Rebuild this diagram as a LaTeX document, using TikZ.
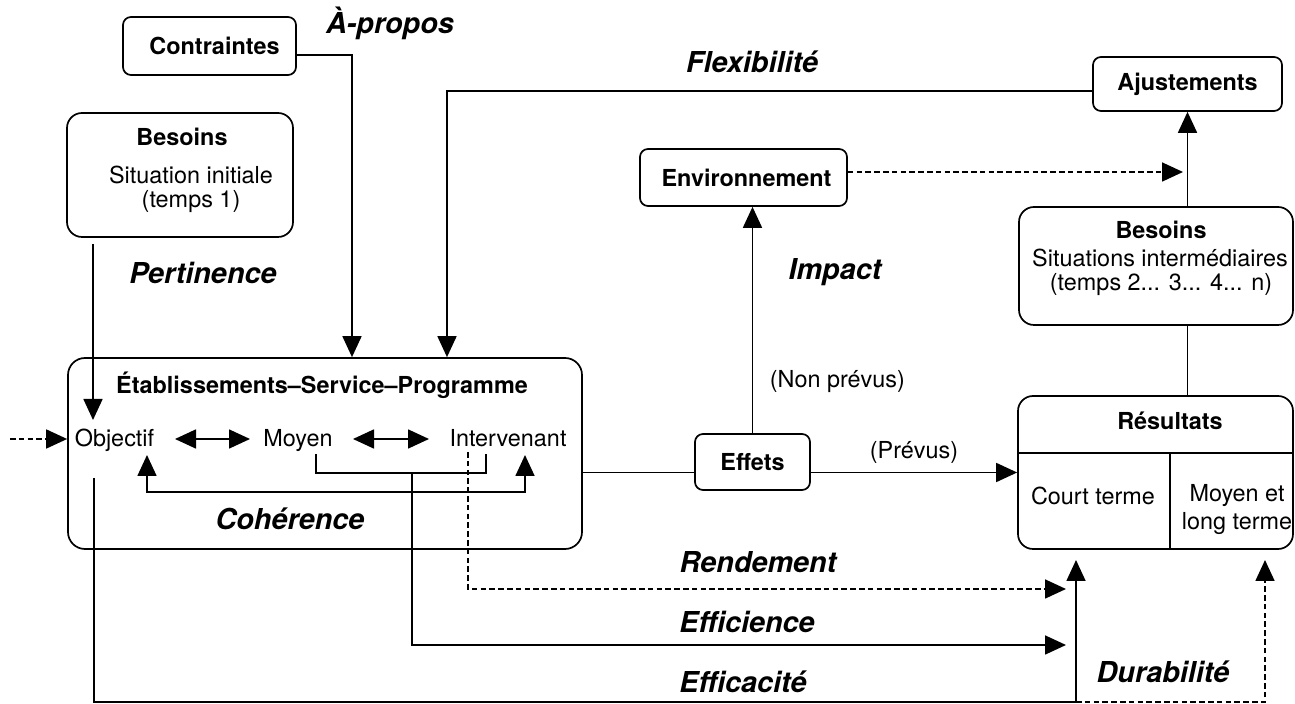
\documentclass[tikz,border=0pt]{standalone}
\usepackage{fontspec}
\setmainfont{TeX Gyre Heros}
\usetikzlibrary{arrows.meta}
\tikzset{
  rbox/.style={draw, rounded corners=4pt, inner sep=0pt, line width=0.85pt,
    font=\fontsize{11.7}{14}\selectfont\bfseries},
  nt/.style={font=\fontsize{11.7}{14}\selectfont, inner sep=0pt},
  bt/.style={font=\fontsize{11.7}{14}\selectfont\bfseries, inner sep=0pt},
  lab/.style={font=\fontsize{14.4}{17}\selectfont\bfseries\itshape, inner sep=0pt},
  arr/.style={-{Triangle[length=10.5pt,width=9.5pt]}},
  dbl/.style={{Triangle[length=10.5pt,width=9.5pt]}-{Triangle[length=10.5pt,width=9.5pt]}},
  dsh/.style={dash pattern=on 2.8pt off 1.6pt},
}
\begin{document}
\begin{tikzpicture}[x=0.5pt,y=-0.5pt,line width=0.85pt]
\useasboundingbox (0,0) rectangle (1295,704);

% boxes
\node[rbox, minimum width=86.5pt, minimum height=29pt] (contr) at (209.5,46) {\hspace*{5pt}Contraintes};
\node[rbox, rounded corners=7.5pt, minimum width=113pt, minimum height=62pt] (besL) at (180,175) {};
\node[rbox, rounded corners=8.5pt, minimum width=257pt, minimum height=95.5pt] (esp) at (325,453.5) {};
\node[rbox, minimum width=103.5pt, minimum height=28.5pt] (env) at (743.5,177.5) {\hspace*{3pt}Environnement};
\node[rbox, minimum width=94.5pt, minimum height=27pt] (aju) at (1187.5,84) {Ajustements};
\node[rbox, rounded corners=7.5pt, minimum width=137pt, minimum height=59pt] (besR) at (1156,266) {};
\node[rbox, minimum width=57.5pt, minimum height=28pt] (effets) at (752.5,462) {Effets};
\node[rbox, rounded corners=7.5pt, minimum width=137.5pt, minimum height=76.5pt] (res) at (1155.5,472.5) {};

% texts inside boxes
\node[bt] (besLt) at (182,137) {Besoins};
\node[nt] (besLs) at (191,175) {Situation initiale};
\node[nt] (besLn) at (191,202) {(temps 1)};
\node[bt] (besRt) at (1161,230) {Besoins};
\node[nt] (besRs) at (1160,258) {Situations intermédiaires};
\node[nt] (besRn) at (1161,285) {(temps 2... 3... 4... n)};
\node[bt] (espt) at (322,385) {Établissements–Service–Programme};
\node[nt, anchor=base] (obj) at (114.5,447) {Objectif};
\node[nt, anchor=base] (moy) at (298,447) {Moyen};
\node[nt, anchor=base] (int) at (508,447) {Intervenant};
\node[bt] (rest) at (1170,421) {Résultats};
\node[nt] (court) at (1093,496) {Court terme};
\node[nt] (moyl1) at (1237,496) {Moyen et};
\node[nt] (moyl2) at (1237,524) {long terme};
\node[nt, anchor=west] (nonp) at (769,382) {(Non prévus)};
\node[nt] (prev) at (914,452) {(Prévus)};

% italic labels
\node[lab] (apropos) at (390,23) {À-propos};
\node[lab] (flex) at (752,62) {Flexibilité};
\node[lab] (pert) at (203,273) {Pertinence};
\node[lab] (impact) at (835,272) {Impact};
\node[lab] (coh) at (290,519) {Cohérence};
\node[lab] (rend) at (758,562) {Rendement};
\node[lab] (effic) at (747,622) {Efficience};
\node[lab] (effica) at (743,682) {Efficacité};
\node[lab] (dura) at (1163,672) {Durabilité};

% coordinates
\coordinate (src) at (10,439);
\coordinate (objin) at (93,420);
\coordinate (besLo) at (93,244);
\coordinate (a1) at (175,439);
\coordinate (a2) at (250,439);
\coordinate (a3) at (353,439);
\coordinate (a4) at (429,439);
\coordinate (mb1) at (316,454);
\coordinate (mb2) at (486,454);
\coordinate (cb1) at (147,455);
\coordinate (cb2) at (525,455);
\coordinate (ef0) at (412,473);
\coordinate (ef1) at (1066,645);
\coordinate (rd0) at (468,452);
\coordinate (rd1) at (1066,589);
\coordinate (ea0) at (94,478);
\coordinate (ea1) at (1076,560);
\coordinate (du0) at (1076,702);
\coordinate (du1) at (1265,560);
\coordinate (ej) at (1183,172);

% connectors
\draw[arr] ([yshift=-4.5pt]contr.east) -| ([xshift=13.5pt]esp.north);
\draw[arr] ([yshift=-3.5pt]aju.west) -| ([xshift=61pt]esp.north);
\draw[arr] (besLo) -- (objin);
\draw[arr,dsh] (src) -- (esp.west |- src);
\draw[dbl] (a1) -- (a2);
\draw[dbl] (a3) -- (a4);
\draw (mb1) -- ++(0,19) -| (mb2);
\draw[dbl] (cb1) -- ++(0,37) -| (cb2);
\draw[arr] (ef0) |- (ef1);
\draw[arr,dsh] (rd0) |- (rd1);
\draw[arr] (ea0) -- ++(0,224) -| (ea1);
\draw[arr,dsh] (du0) -| (du1);
\draw (esp.east |- res.west) -- (effets.west |- res.west);
\draw[arr] (effets.east |- res.west) -- (res.west);
\draw[arr] (effets.north) -- (effets.north |- env.south);
\draw[arr,dsh] ([yshift=2.75pt]env.east) -- (ej);
\draw[arr] (besR.north -| aju.south) -- (aju.south);
\draw (besR.south -| aju.south) -- (res.north -| aju.south);
\draw ([yshift=-29pt]res.north west) -- ([yshift=-29pt]res.north east);
\draw ([xshift=7.25pt]res.south) -- ([xshift=7.25pt,yshift=-29pt]res.north);
\end{tikzpicture}
\end{document}
